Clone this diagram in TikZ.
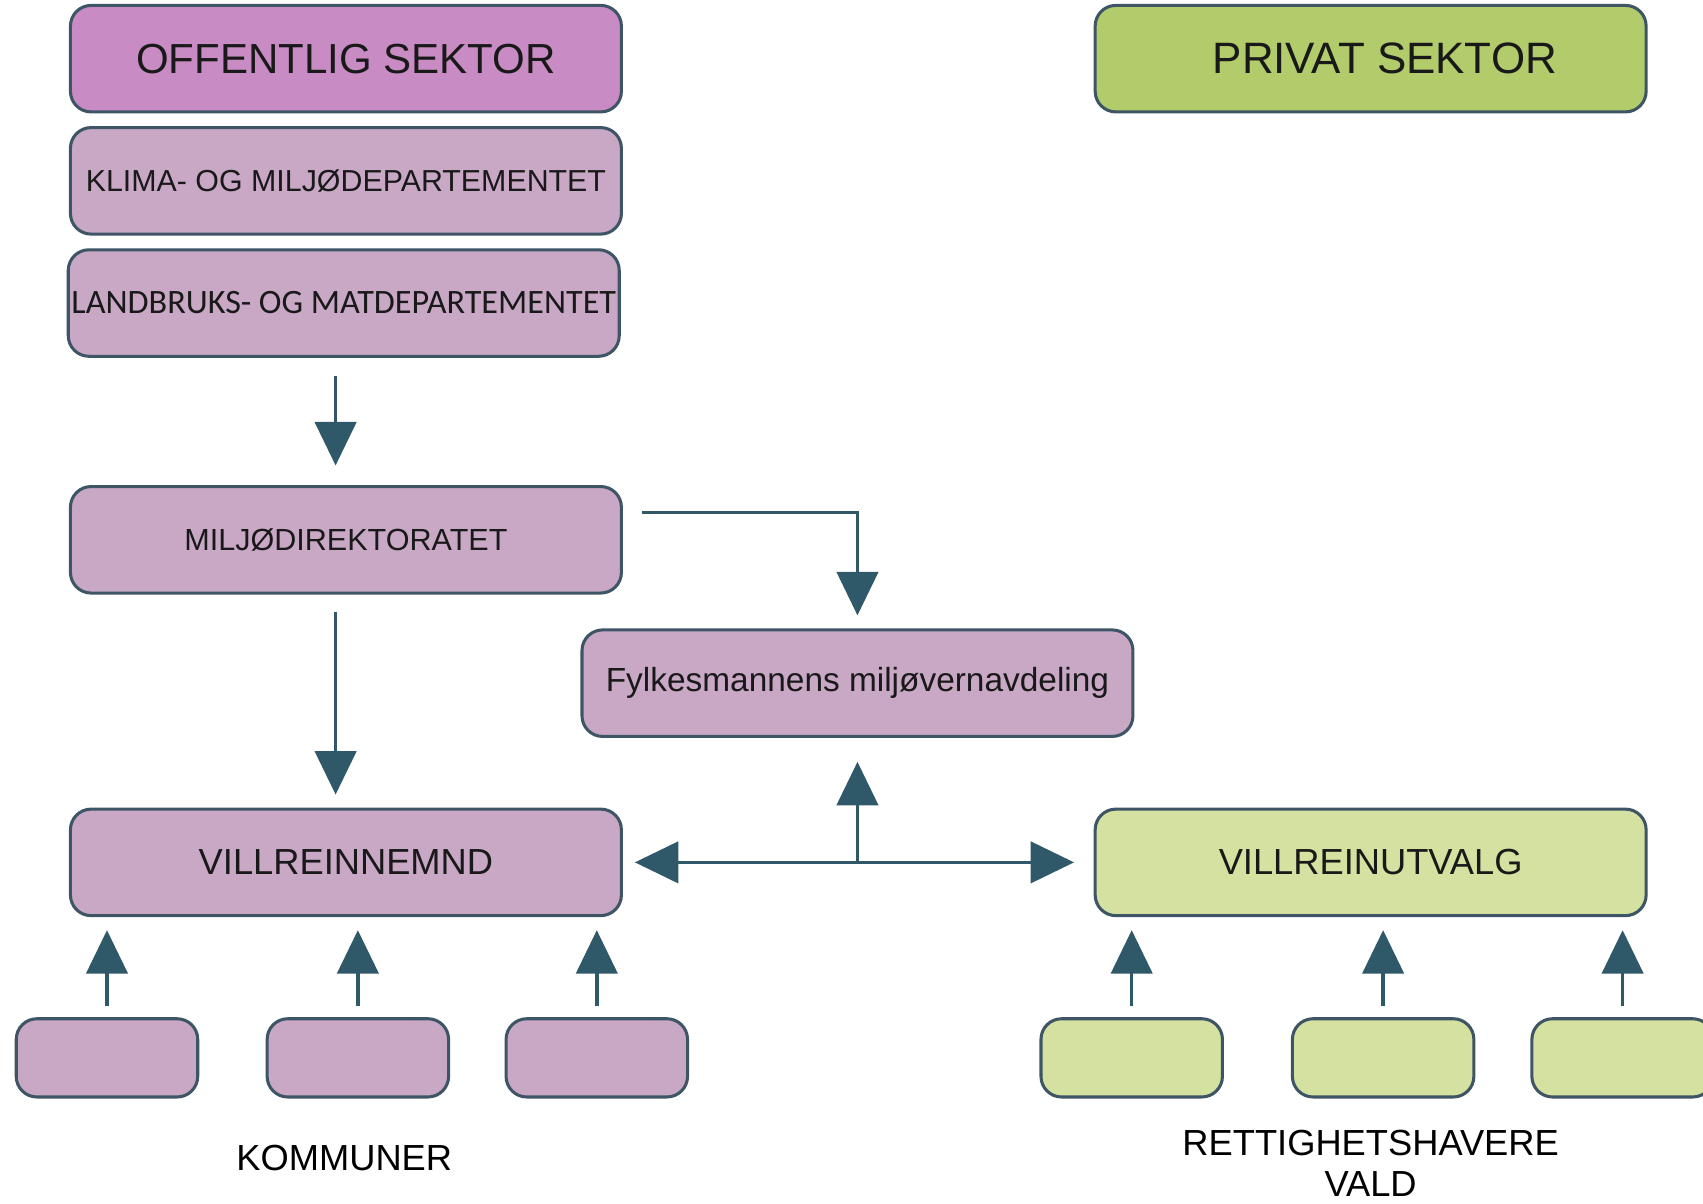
\documentclass[tikz,border=0pt]{standalone}
\usepackage{fontspec}
\setmainfont{Liberation Sans}
\newfontfamily\calfont{Carlito}
\usetikzlibrary{arrows.meta}
\definecolor{mag}{HTML}{C98BC3}
\definecolor{lpink}{HTML}{C9A8C6}
\definecolor{grn}{HTML}{B3CC6B}
\definecolor{lgrn}{HTML}{D4E1A0}
\definecolor{rnd}{HTML}{3E5566}
\definecolor{tl}{HTML}{2F5868}
\tikzset{
    boks/.style={draw=rnd,line width=0.8pt,rounded corners=1.9mm,inner sep=0pt,minimum width=50.7mm,minimum height=9.8mm,text=black!90},
    liten/.style={boks,minimum width=16.7mm,minimum height=7.2mm},
    pil/.style={tl,line width=0.9pt},
    >={Triangle[width=3.8mm,length=4mm]}
}

\begin{document}
\begin{tikzpicture}[x=0.01cm,y=-0.01cm]
            \clip (0,0) rectangle (1568,1108);
            \node [boks,fill=mag,font=\fontsize{11}{13}\selectfont] (offsek) at (318.5,54) {OFFENTLIG SEKTOR};
            \node [boks,fill=grn,font=\fontsize{11.5}{13}\selectfont] (privsek) at (1262,54) {\hspace*{2.6mm}PRIVAT SEKTOR};
            \node [boks,fill=lpink,font=\fontsize{7.95}{10}\selectfont] (kld) at (318.5,166.5) {KLIMA- OG MILJØDEPARTEMENTET};
            \node [boks,fill=lpink,font=\calfont\fontsize{8.95}{10}\selectfont] (lmd) at (316.5,279) {LANDBRUKS- OG MATDEPARTEMENTET};
            \node [boks,fill=lpink,font=\fontsize{8}{10}\selectfont] (mdir) at (318.5,497) {MILJØDIREKTORATET};
            \node [boks,fill=lpink,font=\fontsize{8.75}{10}\selectfont] (fylke) at (789.5,629) {Fylkesmannens miljøvernavdeling};
            \node [boks,fill=lpink,font=\fontsize{9.5}{11}\selectfont] (vnemnd) at (318.5,794) {VILLREINNEMND};
            \node [boks,fill=lgrn,font=\fontsize{9.5}{11}\selectfont] (vutvalg) at (1262,794) {VILLREINUTVALG};
            \node [font=\fontsize{9.5}{11}\selectfont] (komtxt) at (317,1066) {KOMMUNER};
            \node [font=\fontsize{9.5}{10.8}\selectfont,align=center] (rettxt) at (1262,1071) {RETTIGHETSHAVERE\\VALD};
            \coordinate (ax) at (309,0);
            \draw [pil,->,shorten <=1.7mm,shorten >=1.8mm] (lmd.south -| ax) -- (mdir.north -| ax);
            \draw [pil,->,shorten <=1.6mm,shorten >=1.2mm] (mdir.south -| ax) -- (vnemnd.north -| ax);
            \draw [pil,->,shorten <=1.8mm,shorten >=1.2mm] ([yshift=2.5mm]mdir.east) -| (fylke.north);
            \draw [pil,<->,shorten <=1.1mm,shorten >=1.8mm] (vnemnd.east) -- (vutvalg.west);
            \draw [pil,->,shorten >=2.2mm] (vnemnd.east -| fylke.south) -- (fylke.south);
            \foreach \x [count=\i] in {98.5,329.5,549.5} {
                \node [liten,fill=lpink] (kom\i) at (\x,974) {};
                \draw [pil,->,shorten <=1mm,shorten >=1.2mm] (kom\i.north) -- (kom\i.north |- vnemnd.south);
            }
            \foreach \x [count=\i] in {1042,1273.5,1494} {
                \node [liten,fill=lgrn] (ret\i) at (\x,974) {};
                \draw [pil,->,shorten <=1mm,shorten >=1.2mm] (ret\i.north) -- (ret\i.north |- vutvalg.south);
            }
        \end{tikzpicture}
\end{document}
